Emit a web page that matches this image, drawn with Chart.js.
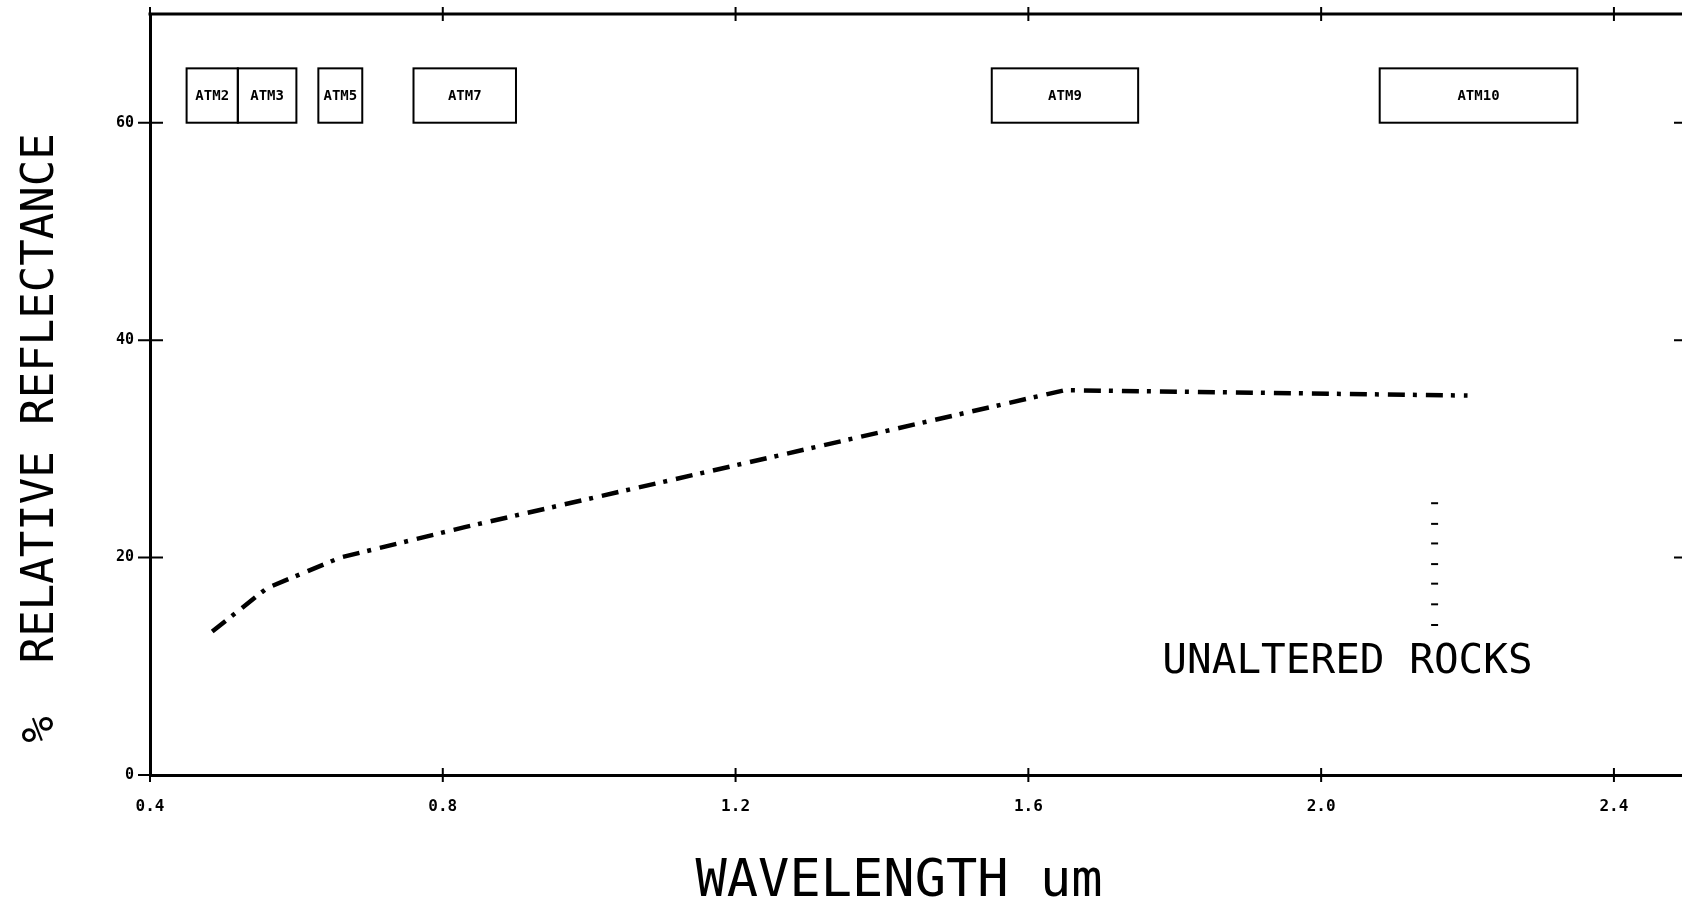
<!DOCTYPE html>
<html>
<head>
<meta charset="utf-8">
<script src="https://cdn.jsdelivr.net/npm/chart.js@4"></script>
<style>
  body { margin: 0; background: #fff; overflow: hidden; }
  #wrap { width: 1688px; height: 900px; }
</style>
</head>
<body>
<div id="wrap"><canvas id="grafica"></canvas></div>
<script>
// wavelength (um) and % relative reflectance
const wavelength = [0.485, 0.56, 0.66, 0.83, 1.65, 2.2];
const reflectance = [13.2, 17.2, 20.0, 22.8, 35.4, 34.9];

// ATM scanner bands shown as boxes along the top
const bandNames = ['ATM2', 'ATM3', 'ATM5', 'ATM7', 'ATM9', 'ATM10'];
const bandLow = [0.45, 0.52, 0.63, 0.76, 1.55, 2.08];
const bandHigh = [0.52, 0.60, 0.69, 0.90, 1.75, 2.35];

// little stack of marks left beside the label
const markX = [2.155, 2.155, 2.155, 2.155, 2.155, 2.155, 2.155];
const markY = [25.0, 23.1, 21.3, 19.4, 17.6, 15.7, 13.8];

const xTicks = [0.4, 0.8, 1.2, 1.6, 2.0, 2.4];
const yTicks = [0, 20, 40, 60];

const mono = '"DejaVu Sans Mono", "Liberation Mono", monospace';

const dibujoExtra = {
  id: 'dibujoExtra',
  afterDraw(chart) {
    const ctx = chart.ctx;
    const a = chart.chartArea;
    const x = chart.scales.x;
    const y = chart.scales.y;
    ctx.save();
    ctx.strokeStyle = '#000';
    ctx.fillStyle = '#000';

    // top frame line
    ctx.lineWidth = 3;
    ctx.beginPath();
    ctx.moveTo(a.left - 1.5, a.top);
    ctx.lineTo(a.right, a.top);
    ctx.stroke();

    // ticks crossing the axes
    ctx.lineWidth = 2;
    xTicks.forEach(v => {
      const px = x.getPixelForValue(v);
      ctx.beginPath();
      ctx.moveTo(px, a.bottom - 7); ctx.lineTo(px, a.bottom + 7);
      ctx.moveTo(px, a.top - 7); ctx.lineTo(px, a.top + 7);
      ctx.stroke();
    });
    yTicks.forEach(v => {
      const py = y.getPixelForValue(v);
      ctx.beginPath();
      ctx.moveTo(a.left - 12, py); ctx.lineTo(a.left + 13, py);
      if (v > 0) { ctx.moveTo(a.right - 8, py); ctx.lineTo(a.right, py); }
      ctx.stroke();
    });

    // band boxes
    const yb = y.getPixelForValue(60);
    const yt = y.getPixelForValue(65);
    ctx.lineWidth = 2;
    ctx.font = 'bold 14px ' + mono;
    ctx.textAlign = 'center';
    ctx.textBaseline = 'middle';
    bandNames.forEach((n, i) => {
      const x1 = x.getPixelForValue(bandLow[i]);
      const x2 = x.getPixelForValue(bandHigh[i]);
      ctx.strokeRect(x1, yt, x2 - x1, yb - yt);
      ctx.fillText(n, (x1 + x2) / 2, (yt + yb) / 2 + 1);
    });

    // label inside the plot
    ctx.font = '41px ' + mono;
    ctx.fillText('UNALTERED ROCKS', x.getPixelForValue(2.036), y.getPixelForValue(10.4));

    // axis titles
    ctx.font = '52px ' + mono;
    ctx.textBaseline = 'alphabetic';
    ctx.fillText('WAVELENGTH um', 899, 896);

    ctx.translate(53, 438);
    ctx.rotate(-Math.PI / 2);
    ctx.font = '44px ' + mono;
    ctx.fillText('%  RELATIVE REFLECTANCE', 0, 0);
    ctx.restore();
  }
};

new Chart(document.getElementById('grafica').getContext('2d'), {
  type: 'line',
  data: {
    datasets: [{
      data: wavelength.map((w, i) => ({ x: w, y: reflectance[i] })),
      borderColor: '#000',
      borderWidth: 4.5,
      borderDash: [17, 8, 4, 9],
      borderCapStyle: 'butt',
      pointRadius: 0,
      tension: 0
    }, {
      data: markX.map((m, i) => ({ x: m, y: markY[i] })),
      showLine: false,
      pointStyle: 'line',
      pointRadius: 3.5,
      pointBorderWidth: 2,
      borderColor: '#000'
    }]
  },
  options: {
    responsive: true,
    maintainAspectRatio: false,
    animation: false,
    layout: { padding: { top: 14, right: 0, left: 0, bottom: 0 } },
    plugins: { legend: { display: false }, tooltip: { enabled: false } },
    scales: {
      x: {
        type: 'linear',
        min: 0.4,
        max: 2.493,
        afterBuildTicks: s => { s.ticks = xTicks.map(v => ({ value: v })); },
        afterFit: s => { s.height = 125; s.paddingLeft = 0; s.paddingRight = 0; },
        grid: { display: false, drawTicks: false },
        border: { display: true, width: 3, color: '#000' },
        ticks: {
          padding: 22,
          maxRotation: 0,
          color: '#000',
          font: { family: mono, size: 16, weight: 'bold' },
          callback: v => v.toFixed(1)
        }
      },
      y: {
        min: 0,
        max: 70,
        afterBuildTicks: s => { s.ticks = yTicks.map(v => ({ value: v })); },
        afterFit: s => { s.width = 150; s.paddingTop = 0; s.paddingBottom = 0; },
        grid: { display: false, drawTicks: false },
        border: { display: true, width: 3, color: '#000' },
        ticks: {
          padding: 16,
          color: '#000',
          font: { family: mono, size: 15, weight: 'bold' }
        }
      }
    }
  },
  plugins: [dibujoExtra]
});
</script>
</body>
</html>
